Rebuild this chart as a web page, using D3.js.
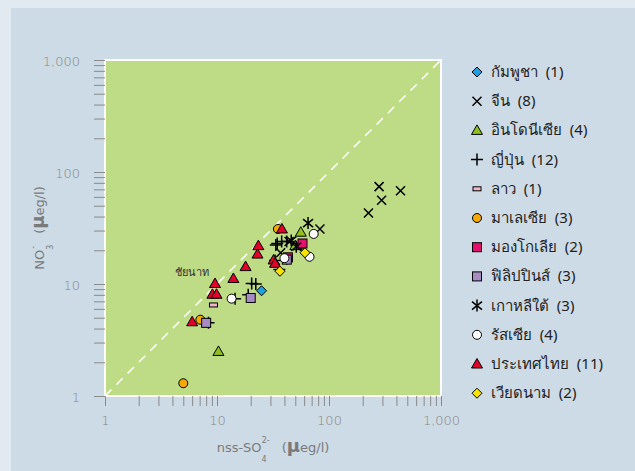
<!DOCTYPE html>
<html>
<head>
<meta charset="utf-8">
<script src="https://cdn.jsdelivr.net/npm/d3@7"></script>
<style>
  body { margin: 0; background: #e1e9f1; }
  svg { display: block; }
</style>
</head>
<body>
<svg width="635" height="471"></svg>
<script>
// values: [nss-SO4, NO3] in ueq/l
var cambodia = [[25, 8.7]];
var china = [[280, 74], [435, 68], [295, 56], [225, 43], [83, 31], [37, 19], [44, 24], [52, 22]];
var indonesia = [[10.3, 2.5], [56, 29], [55, 22.3], [50, 22]];
var japan = [[8.4, 4.5], [14.5, 7.4], [19, 8], [20.4, 10.1], [22.2, 10], [33.5, 22.3], [34.5, 23],
             [37.8, 23.9], [41.9, 23.9], [33, 16.2], [42, 16.8], [36, 13.5]];
var laos = [[9.3, 6.5]];
var malaysia = [[5, 1.3], [7.1, 4.8], [35, 31]];
var mongolia = [[58, 23], [43, 17.3]];
var philippines = [[8, 4.5], [20, 7.5], [42, 16.5]];
var korea = [[65, 35], [46, 24.4], [51, 21.5]];
var russia = [[13.5, 7.4], [40, 17], [73, 28], [67, 17.5]];
var thailand = [[6, 4.6], [9.1, 8.1], [9.9, 8.1], [9.6, 10.1], [14, 11.2], [18, 14.3], [23, 18.5],
                [23.4, 22], [32, 16.4], [33, 15.3], [38, 31]];
var vietnam = [[36.5, 13], [61, 19]];

var countryNames = ["กัมพูชา", "จีน", "อินโดนีเซีย", "ญี่ปุ่น", "ลาว", "มาเลเซีย", "มองโกเลีย",
                    "ฟิลิปปินส์", "เกาหลีใต้", "รัสเซีย", "ประเทศไทย", "เวียดนาม"];
var countryCounts = [1, 8, 4, 12, 1, 3, 2, 3, 3, 4, 11, 2];
var majorTicks = [1, 10, 100, 1000];

var series = [
    {data: cambodia, shape: "diamond", fill: "#1f9fdc"},
    {data: china, shape: "x"},
    {data: indonesia, shape: "triangle", fill: "#8fbf1f"},
    {data: japan, shape: "plus"},
    {data: laos, shape: "bar", fill: "#f3b8c8"},
    {data: malaysia, shape: "circle", fill: "#f5a800"},
    {data: mongolia, shape: "square", fill: "#e2106c"},
    {data: philippines, shape: "square", fill: "#a68cc2"},
    {data: korea, shape: "asterisk"},
    {data: russia, shape: "circle", fill: "#ffffff"},
    {data: thailand, shape: "triangle", fill: "#e0002a"},
    {data: vietnam, shape: "diamond", fill: "#f7e200"}
];

var svg = d3.select("svg");
var plot = {left: 105, top: 60, size: 336};

svg.append("rect").attr("x", 11).attr("y", 8).attr("width", 624).attr("height", 463)
    .attr("fill", "#cddbe6");

var x = d3.scaleLog().domain([1, 1000]).range([plot.left, plot.left + plot.size]);
var y = d3.scaleLog().domain([1, 1000]).range([plot.top + plot.size, plot.top]);

svg.append("rect")
    .attr("x", plot.left).attr("y", plot.top)
    .attr("width", plot.size).attr("height", plot.size)
    .attr("fill", "#bddc85").attr("stroke", "#fff").attr("stroke-width", 2);

// all ticks 1..1000 (minor ones unlabeled)
var allTicks = [];
for (var p = 1; p < 1000; p *= 10) {
    for (var k = 1; k < 10; k++) allTicks.push(p * k);
}
allTicks.push(1000);
var fmt = function(d) { return majorTicks.indexOf(d) >= 0 ? d3.format(",")(d) : ""; };

var xAxis = svg.append("g")
    .attr("transform", "translate(0," + (plot.top + plot.size) + ")")
    .call(d3.axisBottom(x).tickValues(allTicks).tickFormat(fmt).tickSize(10).tickPadding(10));
var yAxis = svg.append("g")
    .attr("transform", "translate(" + plot.left + ",0)")
    .call(d3.axisLeft(y).tickValues(allTicks).tickFormat(fmt).tickSize(11).tickPadding(14));

[xAxis, yAxis].forEach(function(a) {
    a.select(".domain").remove();
    a.selectAll("line").attr("stroke", "#8a8a8a");
    a.selectAll("text").attr("fill", "#858585").style("font-size", "13px")
        .style("font-family", "'DejaVu Sans', sans-serif").style("font-weight", "300");
});
yAxis.selectAll("text").attr("dy", "0.45em");

// 1:1 line
svg.append("line")
    .attr("x1", x(1)).attr("y1", y(1)).attr("x2", x(1000)).attr("y2", y(1000))
    .attr("stroke", "#fff").attr("stroke-width", 1.5).attr("stroke-dasharray", "9,7");

function drawShape(g, shape, fill) {
    if (shape == "diamond") {
        g.append("path").attr("d", "M0,-5L5,0L0,5L-5,0Z").attr("fill", fill).attr("stroke", "#000");
    } else if (shape == "triangle") {
        g.append("path").attr("d", "M0,-5.5L5.5,4L-5.5,4Z").attr("fill", fill).attr("stroke", "#000");
    } else if (shape == "circle") {
        g.append("circle").attr("r", 4.5).attr("fill", fill).attr("stroke", "#000");
    } else if (shape == "square") {
        g.append("rect").attr("x", -4.5).attr("y", -4.5).attr("width", 9).attr("height", 9)
            .attr("fill", fill).attr("stroke", "#000");
    } else if (shape == "bar") {
        g.append("rect").attr("x", -4).attr("y", -2).attr("width", 8).attr("height", 4)
            .attr("fill", fill).attr("stroke", "#000");
    } else if (shape == "x") {
        g.append("path").attr("d", "M-4.5,-4.5L4.5,4.5M-4.5,4.5L4.5,-4.5")
            .attr("stroke", "#000").attr("stroke-width", 1.5);
    } else if (shape == "plus") {
        g.append("path").attr("d", "M-6,0L6,0M0,-6L0,6")
            .attr("stroke", "#000").attr("stroke-width", 1.5);
    } else if (shape == "asterisk") {
        g.append("path").attr("d", "M-5,-4L5,4M-5,4L5,-4M0,-6L0,6")
            .attr("stroke", "#000").attr("stroke-width", 1.5);
    }
}

series.forEach(function(s) {
    s.data.forEach(function(d) {
        var g = svg.append("g").attr("transform", "translate(" + x(d[0]) + "," + y(d[1]) + ")");
        drawShape(g, s.shape, s.fill);
    });
});

svg.append("text").attr("x", 175).attr("y", 276)
    .style("font-family", "Tahoma, 'Noto Sans', sans-serif").style("font-size", "11px")
    .attr("fill", "#333").text("ชัยนาท");

// legend
var legend = svg.append("g");
series.forEach(function(s, i) {
    var ly = 72 + i * 29.2;
    var g = legend.append("g").attr("transform", "translate(477," + ly + ")");
    drawShape(g, s.shape, s.fill);
    legend.append("text").attr("x", 491).attr("y", ly + 5)
        .style("font-family", "Tahoma, 'Noto Sans', sans-serif").style("font-size", "15px")
        .style("white-space", "pre").attr("fill", "#222")
        .text(countryNames[i] + "  (" + countryCounts[i] + ")");
});

// axis titles
var titleFont = "'DejaVu Sans', sans-serif";
var xt = svg.append("text").attr("x", 273).attr("y", 452).attr("text-anchor", "middle")
    .style("font-family", titleFont).style("font-size", "13px").attr("fill", "#7a7a7a");
xt.append("tspan").text("nss-SO");
xt.append("tspan").attr("dy", 10).style("font-size", "8px").text("4");
xt.append("tspan").attr("dx", -5).attr("dy", -19).style("font-size", "8px").text("2-");
xt.append("tspan").attr("dy", 9).attr("dx", 12).text("(");
xt.append("tspan").style("font-size", "18px").style("font-weight", "bold").text("µ");
xt.append("tspan").text("eg/l)");

var yt = svg.append("text").attr("transform", "translate(44,228) rotate(-90)")
    .attr("text-anchor", "middle")
    .style("font-family", titleFont).style("font-size", "13px").attr("fill", "#7a7a7a");
yt.append("tspan").text("NO");
yt.append("tspan").attr("dy", 9).style("font-size", "8px").text("3");
yt.append("tspan").attr("dx", -4).attr("dy", -17).style("font-size", "8px").text("-");
yt.append("tspan").attr("dy", 8).attr("dx", 12).text("(");
yt.append("tspan").style("font-size", "18px").style("font-weight", "bold").text("µ");
yt.append("tspan").text("eg/l)");
</script>
</body>
</html>
